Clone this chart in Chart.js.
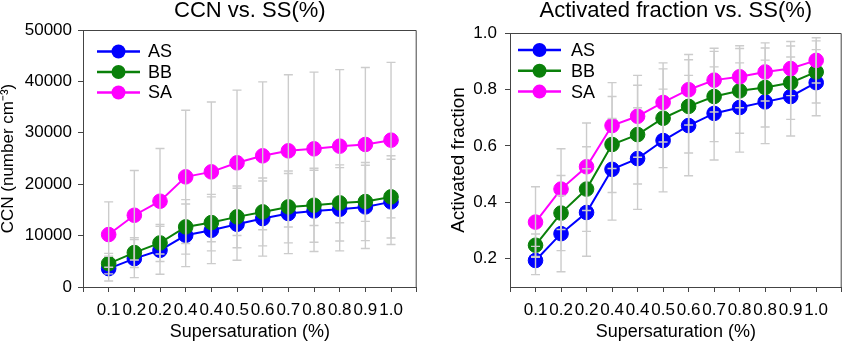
<!DOCTYPE html>
<html>
<head>
<meta charset="utf-8">
<script src="https://cdn.jsdelivr.net/npm/chart.js@4.4.1/dist/chart.umd.min.js"></script>
<style>
  html, body { margin: 0; padding: 0; background: #ffffff; }
  #wrap { display: flex; width: 850px; height: 343px; }
  .panel { width: 425px; height: 343px; }
</style>
</head>
<body>
<div id="wrap">
  <div class="panel"><canvas id="ccnChart" width="425" height="343"></canvas></div>
  <div class="panel"><canvas id="afChart" width="425" height="343"></canvas></div>
</div>
<script>
// Supersaturation categories (as labelled on the x axis)
const ssLabels = ['0.1', '0.2', '0.2', '0.4', '0.4', '0.5', '0.6', '0.7', '0.8', '0.8', '0.9', '1.0'];
const seriesNames = ['AS', 'BB', 'SA'];
const seriesColors = ['#0000ff', '#0a800a', '#ff00ff'];

// CCN number concentration (cm^-3), mean and standard deviation
const ccnAS = [3570, 5520, 7140, 10060, 11040, 12210, 13310, 14290, 14800, 15130, 15580, 16560];
const ccnBB = [4550, 6690, 8570, 11690, 12530, 13640, 14610, 15580, 15910, 16360, 16620, 17530];
const ccnSA = [10200, 13960, 16690, 21430, 22400, 24160, 25520, 26490, 26880, 27400, 27730, 28570];
const ccnSdAS = [2400, 3700, 4650, 6100, 6500, 7000, 7300, 7800, 7900, 8100, 8100, 8300];
const ccnSdBB = [2000, 2900, 3600, 5300, 5500, 6000, 6600, 7000, 7200, 7400, 7600, 8000];
const ccnSdSA = [6360, 8700, 10260, 12970, 13600, 14140, 14380, 14810, 14920, 14900, 14970, 15130];
const ccnTicks = [0, 10000, 20000, 30000, 40000, 50000];

// Activated fraction, mean and standard deviation
const afAS = [0.194, 0.289, 0.364, 0.517, 0.555, 0.619, 0.672, 0.715, 0.736, 0.756, 0.775, 0.824];
const afBB = [0.248, 0.362, 0.447, 0.605, 0.640, 0.698, 0.740, 0.775, 0.795, 0.807, 0.824, 0.862];
const afSA = [0.330, 0.447, 0.526, 0.672, 0.705, 0.754, 0.799, 0.833, 0.845, 0.862, 0.874, 0.903];
const afSdAS = [0.050, 0.135, 0.155, 0.180, 0.180, 0.182, 0.178, 0.165, 0.158, 0.148, 0.140, 0.117];
const afSdBB = [0.040, 0.133, 0.150, 0.170, 0.175, 0.175, 0.165, 0.160, 0.150, 0.140, 0.130, 0.110];
const afSdSA = [0.125, 0.143, 0.155, 0.152, 0.145, 0.140, 0.125, 0.113, 0.110, 0.103, 0.096, 0.080];
const afTicks = [0.2, 0.4, 0.6, 0.8, 1.0];

const FONT = '"Liberation Sans", Arial, Helvetica, sans-serif';
const AXIS_COLOR = '#444444';
const ERR_COLOR = '#cccccc';

// Frame, error bars and an in-plot legend with line + marker samples
const decorPlugin = {
  id: 'decor',
  afterDatasetsDraw(chart, args, opts) {
    const { ctx, scales: { x, y } } = chart;
    ctx.save();
    ctx.strokeStyle = ERR_COLOR;
    ctx.lineWidth = 1.4;
    opts.errors.forEach((sd, s) => {
      const pts = chart.data.datasets[s].data;
      pts.forEach((p, i) => {
        const px = x.getPixelForValue(p.x);
        const yTop = y.getPixelForValue(p.y + sd[i]);
        const yBot = y.getPixelForValue(p.y - sd[i]);
        ctx.beginPath();
        ctx.moveTo(px, yTop); ctx.lineTo(px, yBot);
        ctx.moveTo(px - 4.5, yTop); ctx.lineTo(px + 4.5, yTop);
        ctx.moveTo(px - 4.5, yBot); ctx.lineTo(px + 4.5, yBot);
        ctx.stroke();
      });
    });
    ctx.restore();
  },
  afterDraw(chart, args, opts) {
    const { ctx, chartArea: a } = chart;
    ctx.save();
    // top and right sides of the plot frame
    ctx.strokeStyle = AXIS_COLOR;
    ctx.lineWidth = 1;
    ctx.beginPath();
    ctx.moveTo(a.left, a.top + 0.5); ctx.lineTo(a.right - 0.5, a.top + 0.5);
    ctx.lineTo(a.right - 0.5, a.bottom);
    ctx.stroke();
    // legend
    const lg = opts.legend;
    ctx.font = '18px ' + FONT;
    ctx.textBaseline = 'middle';
    ctx.textAlign = 'left';
    chart.data.datasets.forEach((ds, i) => {
      const cy = a.top + lg.top + i * lg.step;
      ctx.strokeStyle = ds.borderColor;
      ctx.lineWidth = 2.5;
      ctx.beginPath();
      ctx.moveTo(a.left + lg.lineFrom, cy); ctx.lineTo(a.left + lg.lineTo, cy);
      ctx.stroke();
      ctx.fillStyle = ds.backgroundColor;
      ctx.beginPath();
      ctx.arc(a.left + (lg.lineFrom + lg.lineTo) / 2, cy, 7, 0, Math.PI * 2);
      ctx.fill();
      ctx.fillStyle = '#000000';
      ctx.fillText(ds.label, a.left + lg.text, cy + 1);
    });
    ctx.restore();
  }
};

function makeDatasets(seriesList) {
  return seriesList.map((vals, s) => ({
    label: seriesNames[s],
    data: vals.map((v, i) => ({ x: i, y: v })),
    borderColor: seriesColors[s],
    backgroundColor: seriesColors[s],
    pointBackgroundColor: seriesColors[s],
    pointBorderColor: seriesColors[s],
    borderWidth: 2,
    pointRadius: 7.3,
    pointBorderWidth: 1,
    tension: 0,
    order: 2 - s
  }));
}

function makeChart(canvasId, cfg) {
  return new Chart(document.getElementById(canvasId), {
    type: 'line',
    data: { datasets: makeDatasets(cfg.series) },
    plugins: [decorPlugin],
    options: {
      responsive: false,
      animation: false,
      devicePixelRatio: 1,
      layout: { padding: { left: 0, right: 1, top: 0, bottom: 0 } },
      plugins: {
        legend: { display: false },
        tooltip: { enabled: false },
        title: {
          display: true,
          text: cfg.title,
          fullSize: false,
          color: '#000000',
          font: { family: FONT, size: 22, weight: 'normal', lineHeight: 1 },
          padding: { top: 0, bottom: cfg.titleGap }
        },
        decor: { errors: cfg.errors, legend: cfg.legend }
      },
      scales: {
        x: {
          type: 'linear',
          min: -1,
          max: 12,
          afterBuildTicks: (s) => { s.ticks = Array.from({ length: 14 }, (_, i) => ({ value: i - 1 })); },
          afterFit: (s) => { s.height = 56; },
          ticks: {
            autoSkip: false, maxRotation: 0, minRotation: 0, padding: 8,
            color: '#000000', font: { family: FONT, size: 17 },
            callback: (v) => ssLabels[v] !== undefined ? ssLabels[v] : ''
          },
          grid: { drawOnChartArea: false, drawTicks: true, tickLength: 5, color: AXIS_COLOR },
          border: { display: true, color: AXIS_COLOR, width: 1 },
          title: {
            display: true, text: 'Supersaturation (%)', color: '#000000',
            font: { family: FONT, size: 18 }, padding: { top: 0, bottom: 0 }
          }
        },
        y: {
          type: 'linear',
          min: cfg.yMin,
          max: cfg.yMax,
          afterBuildTicks: (s) => { s.ticks = cfg.yTicks.map(v => ({ value: v })); },
          afterFit: (s) => { s.width = cfg.yWidth; },
          ticks: {
            padding: cfg.yTickPad, color: '#000000', font: { family: FONT, size: 17 },
            callback: cfg.yFormat
          },
          grid: { drawOnChartArea: false, drawTicks: true, tickLength: 5, color: AXIS_COLOR },
          border: { display: true, color: AXIS_COLOR, width: 1 },
          title: {
            display: true, text: cfg.yTitle, color: '#000000',
            font: { family: FONT, size: cfg.yTitleSize, lineHeight: 1 },
            padding: { top: cfg.yTitlePad, bottom: 0 }
          }
        }
      }
    }
  });
}

makeChart('ccnChart', {
  title: 'CCN vs. SS(%)',
  titleGap: 8,
  series: [ccnAS, ccnBB, ccnSA],
  errors: [ccnSdAS, ccnSdBB, ccnSdSA],
  yMin: 0, yMax: 50000, yTicks: ccnTicks,
  yFormat: (v) => String(v),
  yWidth: 83, yTickPad: 6,
  yTitle: 'CCN (number cm\u207B\u00B3)', yTitleSize: 17, yTitlePad: 0,
  legend: { top: 21.5, step: 20.5, lineFrom: 14, lineTo: 57, text: 65 }
});

makeChart('afChart', {
  title: 'Activated fraction vs. SS(%)',
  titleGap: 11,
  series: [afAS, afBB, afSA],
  errors: [afSdAS, afSdBB, afSdSA],
  yMin: 0.1, yMax: 1.0, yTicks: afTicks,
  yFormat: (v) => v.toFixed(1),
  yWidth: 85, yTickPad: 8,
  yTitle: 'Activated fraction', yTitleSize: 19, yTitlePad: 24,
  legend: { top: 17, step: 20.8, lineFrom: 8, lineTo: 51, text: 61 }
});
</script>
</body>
</html>
